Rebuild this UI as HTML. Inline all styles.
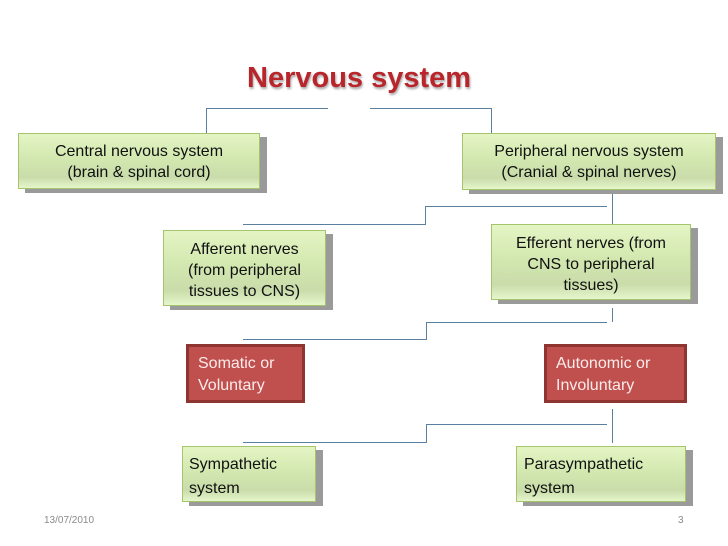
<!DOCTYPE html>
<html><head><meta charset="utf-8"><style>
body{margin:0;width:728px;height:546px;background:#fff;position:relative;overflow:hidden;font-family:"Liberation Sans",sans-serif}
.a{position:absolute}
.l{position:absolute;background:#5b7f9e}
.g{position:absolute;box-sizing:border-box;border:1px solid #a6c46c;background:linear-gradient(#e4f5c4,#d3e8b0 45%,#c9dcaa 80%,#e6f6cc);box-shadow:7px 4px 0 #9a9a9a;color:#111;font-size:16px;line-height:21px;text-align:center}
.r{position:absolute;box-sizing:border-box;border:3px solid #8e3532;background:#c0504d;color:#fbecec;font-size:16px;line-height:22px;padding:6px 0 0 9px}
</style></head><body>
<div class="a" style="left:247px;top:62px;font-size:29px;font-weight:bold;color:#b8262c;text-shadow:1px 2px 2px #aaa;letter-spacing:0px">Nervous system</div>

<div class="l" style="left:206px;top:108px;width:122px;height:1px"></div>
<div class="l" style="left:206px;top:108px;width:1px;height:25px"></div>
<div class="l" style="left:370px;top:108px;width:122px;height:1px"></div>
<div class="l" style="left:491px;top:108px;width:1px;height:25px"></div>

<div class="g" style="left:18px;top:133px;width:242px;height:56px;padding-top:7px">Central nervous system<br>(brain &amp; spinal cord)</div>
<div class="g" style="left:462px;top:133px;width:254px;height:57px;padding-top:7px">Peripheral nervous system<br>(Cranial &amp; spinal nerves)</div>

<div class="l" style="left:243px;top:224px;width:182px;height:1px"></div>
<div class="l" style="left:425px;top:206px;width:1px;height:19px"></div>
<div class="l" style="left:425px;top:206px;width:182px;height:1px"></div>
<div class="l" style="left:612px;top:194px;width:1px;height:30px"></div>

<div class="g" style="left:163px;top:230px;width:163px;height:76px;padding-top:8px">Afferent nerves<br>(from peripheral<br>tissues to CNS)</div>
<div class="g" style="left:491px;top:224px;width:200px;height:76px;padding-top:8px">Efferent nerves (from<br>CNS to peripheral<br>tissues)</div>

<div class="l" style="left:612px;top:308px;width:1px;height:14px"></div>
<div class="l" style="left:426px;top:322px;width:181px;height:1px"></div>
<div class="l" style="left:426px;top:322px;width:1px;height:18px"></div>
<div class="l" style="left:243px;top:339px;width:184px;height:1px"></div>

<div class="r" style="left:186px;top:344px;width:119px;height:59px">Somatic or<br>Voluntary</div>
<div class="r" style="left:544px;top:344px;width:143px;height:59px">Autonomic or<br>Involuntary</div>

<div class="l" style="left:612px;top:409px;width:1px;height:34px"></div>
<div class="l" style="left:426px;top:424px;width:181px;height:1px"></div>
<div class="l" style="left:426px;top:424px;width:1px;height:18px"></div>
<div class="l" style="left:243px;top:442px;width:184px;height:1px"></div>

<div class="g" style="left:182px;top:446px;width:134px;height:56px;text-align:left;padding:6px 0 0 6px;line-height:24px">Sympathetic<br>system</div>
<div class="g" style="left:516px;top:446px;width:170px;height:56px;text-align:left;padding:6px 0 0 7px;line-height:24px">Parasympathetic<br>system</div>

<div class="a" style="left:44px;top:515px;font-size:10px;color:#8a8a8a">13/07/2010</div>
<div class="a" style="left:678px;top:515px;font-size:10px;color:#8a8a8a">3</div>
</body></html>
